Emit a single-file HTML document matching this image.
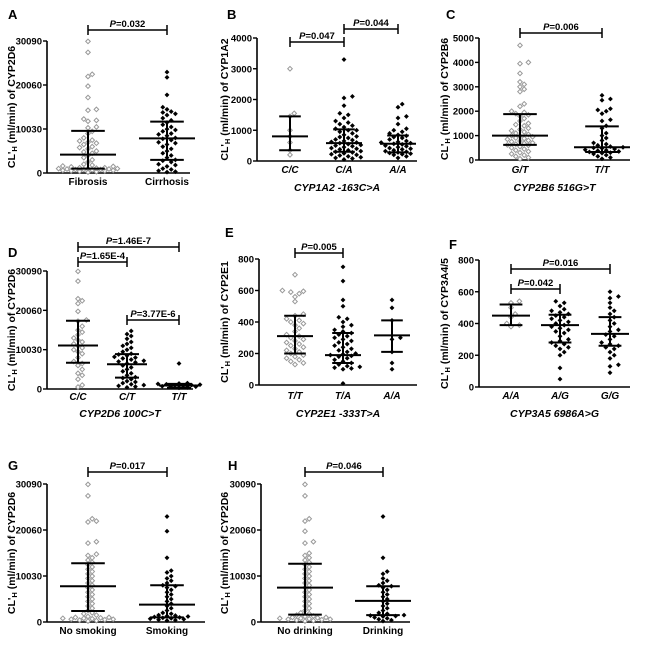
<!DOCTYPE html>
<html><head><meta charset="utf-8">
<style>
html,body{margin:0;padding:0;background:#fff;}
svg{display:block;font-family:"Liberation Sans",Arial,sans-serif;}
</style></head>
<body>
<svg id="fig" width="650" height="645" viewBox="0 0 650 645"></svg>
<script>
// ---------- DATA ----------
const aCats=["Fibrosis","Cirrhosis"];
const aTicks=[0,10030,20060,30090];
const aFib=[30000,27500,22500,22000,19800,17200,14500,14300,12300,12000,11800,10500,10300,9500,9000,8000,7500,7300,7000,6800,6500,6000,5800,5500,5000,4800,4500,4000,3500,3000,2500,2000,1800,1600,1500,1200,1000,1000,900,800,800,700,600,500,500,400,300,200,1000,1200,1400,800,600,1100,900];
const aCir=[23000,21800,17800,15000,14500,14000,13800,13500,13200,12500,12000,11500,11000,10500,10000,9800,9500,9000,8800,8500,8000,7800,7500,7000,6800,6500,6000,5500,5000,4500,4000,3500,3000,2800,2500,2000,1800,1500,1000,800,500,300,200];
const aMed=[4200,7900]; const aLo=[1000,3000]; const aHi=[9600,11700];

const bCats=["C/C","C/A","A/A"];
const bTicks=[0,1000,2000,3000,4000];
const bCC=[3000,1550,1450,1000,800,600,350,200];
const bCA=[3300,2100,2050,1800,1550,1500,1400,1300,1250,1200,1150,1100,1050,1000,1000,950,900,850,800,780,750,700,680,650,620,600,580,550,520,500,480,450,420,400,380,350,320,300,280,250,220,200,180,150,120,100,80,50];
const bAA=[1850,1750,1450,1400,1200,1050,1000,950,900,850,820,780,750,700,650,620,600,580,560,540,500,480,450,420,400,380,350,320,300,280,260,240,220,200,150,100];
const bMed=[800,580,560]; const bLo=[350,300,280]; const bHi=[1450,1030,830];

const cCats=["G/T","T/T"];
const cTicks=[0,1000,2000,3000,4000,5000];
const cGT=[4700,4000,3950,3550,3200,3100,3000,2900,2800,2300,2200,2000,1950,1900,1850,1800,1700,1600,1500,1450,1400,1300,1250,1200,1150,1100,1050,1000,980,950,900,880,850,800,780,750,700,680,650,620,600,550,500,450,400,350,300,250,200,150,100,50];
const cTT=[2650,2500,2450,2100,2050,2000,1900,1650,1600,1400,1300,1100,1000,900,800,700,650,600,550,520,500,480,450,420,400,380,350,330,300,280,250,200,150,100,50];
const cMed=[1000,520]; const cLo=[620,330]; const cHi=[1880,1380];

const dCats=["C/C","C/T","T/T"];
const dTicks=[0,10030,20060,30090];
const dCC=[30000,27500,23000,22500,21800,19800,17600,17300,16000,15000,14500,13800,13000,12500,12000,11500,11000,10500,10000,9500,9000,8000,7000,6500,6000,5000,4000,3500,2500,1000,500];
const dCT=[14800,14000,13500,12800,12000,11500,11000,10500,10000,9500,9000,8800,8500,8200,8000,7800,7500,7200,7000,6800,6500,6000,5500,5000,4500,4000,3500,3000,2800,2500,2000,1800,1500,1200,1000,800,600,400];
const dTT=[6500,1500,1400,1300,1200,1100,1000,900,800,700,600,500,400,300];
const dMed=[11100,6300,900]; const dLo=[6700,2900,300]; const dHi=[17400,8900,1300];

const eCats=["T/T","T/A","A/A"];
const eTicks=[0,200,400,600,800];
const eTT=[700,600,595,590,580,560,530,450,440,420,410,400,390,380,360,340,320,310,300,290,280,270,260,250,240,230,220,210,200,190,180,170,160,150,140,130];
const eTA=[750,660,540,500,430,420,400,380,370,350,340,330,320,310,300,290,280,270,260,250,240,230,220,210,200,195,190,185,180,170,160,150,140,130,120,115,110,105,100,10];
const eAA=[540,490,410,300,290,210,140,100];
const eMed=[310,190,315]; const eLo=[200,140,210]; const eHi=[440,330,410];

const fCats=["A/A","A/G","G/G"];
const fTicks=[0,200,400,600,800];
const fAA=[540,530,500,460,440,400,390,380];
const fAG=[540,530,510,490,480,470,460,450,440,430,420,410,400,390,380,370,360,350,340,320,300,290,280,270,260,250,240,220,200,120,50];
const fGG=[600,570,560,530,500,480,460,440,420,400,380,360,350,330,320,300,280,270,260,250,240,220,200,180,140,130,90];
const fMed=[450,390,335]; const fLo=[390,280,260]; const fHi=[520,455,440];

const gCats=["No smoking","Smoking"];
const gTicks=[0,10030,20060,30090];
const gNo=[30000,27500,22500,22000,21800,17500,17200,14800,14500,14000,13500,13000,12500,12000,11500,11000,10500,10000,9500,9000,8500,8000,7500,7000,6500,6000,5500,5000,4500,4000,3500,3000,2500,2000,1800,1500,1200,1000,900,800,700,600,500,400,300,200,1000,800,600];
const gSm=[23000,19800,14000,11200,10800,10000,9500,9000,8500,8000,7800,7500,7000,6500,6000,5500,5000,4500,4000,3500,3000,2500,2000,1800,1500,1400,1300,1200,1100,1000,900,800,700,600,500,400,300];
const gMed=[7800,3800]; const gLo=[2400,1000]; const gHi=[12800,8000];

const hCats=["No drinking","Drinking"];
const hTicks=[0,10030,20060,30090];
const hNo=[30000,27500,22500,22000,19800,17500,17200,15000,14500,14000,13500,13000,12500,12000,11500,11000,10500,10000,9500,9000,8500,8000,7500,7000,6500,6000,5500,5000,4500,4000,3500,3000,2500,2000,1800,1500,1200,1000,900,800,700,600,500,400,300,200,1000,800,600,1300];
const hDr=[23000,14000,11000,10500,9500,9000,8500,8000,7800,7500,7000,6500,6000,5500,5000,4500,4000,3500,3000,2500,2000,1800,1500,1400,1300,1200,1000,800,600,400,200];
const hMed=[7500,4600]; const hLo=[1600,1500]; const hHi=[12700,7800];

// ---------- RENDER ----------
const NS="http://www.w3.org/2000/svg";
const svg=document.getElementById('fig');
function mk(tag,attrs,parent){const e=document.createElementNS(NS,tag);for(const k in attrs)e.setAttribute(k,attrs[k]);(parent||svg).appendChild(e);return e;}

function panel(o){
  const g=mk('g',{});
  
  
  const yMax=o.ticks[o.ticks.length-1];
  const ys=v=>o.y0+(o.yTop-o.y0)*v/yMax;
  const L=mk('text',{x:o.lx,y:o.ly,'font-size':13,'font-weight':'bold'},g);L.textContent=o.letter;
  
  
  const ya=mk('line',{x1:o.ax,y1:o.yTop,x2:o.ax,y2:o.y0+0.5,stroke:'#000','stroke-width':1.6},g);
  
  
  const xa=mk('line',{x1:o.ax,y1:o.y0,x2:o.xEnd,y2:o.y0,stroke:'#000','stroke-width':1.6},g);
  
  
  o.ticks.forEach(t=>{
    const y=ys(t);
    mk('line',{x1:o.ax-4,y1:y,x2:o.ax,y2:y,stroke:'#000','stroke-width':1.4},g);
    const tx=mk('text',{x:o.ax-5,y:y+3.5,'font-size':9.5,'font-weight':'bold','text-anchor':'end'},g);
    tx.textContent=t;
    
    
  });
  const cy=(o.yTop+o.y0)/2;
  const yt=mk('text',{x:0,y:0,'font-size':10.5,'font-weight':'bold','text-anchor':'middle',transform:`translate(${o.tx},${cy}) rotate(-90)`},g);
  yt.innerHTML='CL\'<tspan font-size="7.5" dy="2">H</tspan><tspan dy="-2"> (ml/min) of '+o.enzyme+'</tspan>';
  
  
  o.cats.forEach((c,i)=>{
    const x=o.gx[i];
    const lab=mk('text',{x:x,y:o.labY,'font-size':10,'font-weight':'bold','text-anchor':'middle','font-style':o.italic?'italic':'normal'},g);
    lab.textContent=c;
    
    
    const open=(i===0);
    const placed=[];
    const vals=o.series[i].slice().sort((a,b)=>a-b);
    const maxOff=o.hw+3;
    vals.forEach(v=>{
      const y=ys(v);
      const cands=[0];for(let k=1;k*4.2<=maxOff;k++){cands.push(k*4.2,-k*4.2);}
      let off=null,best=-1,bestC=0;
      for(const cx of cands){
        let md=Infinity;
        placed.forEach(p=>{const dd=(p[0]-cx)*(p[0]-cx)+(p[1]-y)*(p[1]-y);if(dd<md)md=dd;});
        if(md>=21){off=cx;break;}
        if(md>best){best=md;bestC=cx;}
      }
      if(off===null)off=bestC;
      placed.push([off,y]);
      const px=x+off;
      const d=open?`M${px},${y-2.3}L${px+2.3},${y}L${px},${y+2.3}L${px-2.3},${y}Z`:`M${px},${y-2}L${px+2},${y}L${px},${y+2}L${px-2},${y}Z`;
      const p=mk('path',{d:d,fill:open?'#fff':'#000',stroke:open?'#999':'#000','stroke-width':open?1:0.6},g);
      
      
    });
    const hw=o.hw;
    const eg=mk('g',{stroke:'#000','stroke-width':2},g);
    
    
    mk('line',{x1:x,y1:ys(o.hi[i]),x2:x,y2:ys(o.lo[i])},eg);
    mk('line',{x1:x-hw,y1:ys(o.med[i]),x2:x+hw,y2:ys(o.med[i])},eg);
    mk('line',{x1:x-hw*0.6,y1:ys(o.hi[i]),x2:x+hw*0.6,y2:ys(o.hi[i])},eg);
    mk('line',{x1:x-hw*0.6,y1:ys(o.lo[i]),x2:x+hw*0.6,y2:ys(o.lo[i])},eg);
  });
  if(o.gene){
    const gt=mk('text',{x:(o.ax+o.xEnd)/2,y:o.geneY,'font-size':10.5,'font-weight':'bold','font-style':'italic','text-anchor':'middle'},g);
    gt.textContent=o.gene;
    
    
  }
  o.br.forEach(b=>{
    const bg=mk('g',{},g);
    
    
    const x1=o.gx[b[0]],x2=o.gx[b[1]];
    mk('line',{x1:x1,y1:b[2],x2:x2,y2:b[2],stroke:'#000','stroke-width':1.5},bg);
    mk('line',{x1:x1,y1:b[2]-5,x2:x1,y2:b[2]+5,stroke:'#000','stroke-width':1.5},bg);
    mk('line',{x1:x2,y1:b[2]-5,x2:x2,y2:b[2]+5,stroke:'#000','stroke-width':1.5},bg);
    const t=mk('text',{x:(x1+x2)/2,y:b[2]-3,'font-size':9.5,'font-weight':'bold','text-anchor':'middle'},bg);
    t.innerHTML='<tspan font-style="italic">P</tspan>='+b[3];
  });
}

panel({letter:'A',lx:8,ly:19,ax:47,yTop:41,y0:173,xEnd:190,tx:15,enzyme:'CYP2D6',ticks:aTicks,cats:aCats,gx:[88,167],series:[aFib,aCir],med:aMed,lo:aLo,hi:aHi,hw:28,labY:185,italic:false,br:[[0,1,30,'0.032']]});
panel({letter:'B',lx:227,ly:19,ax:257,yTop:38,y0:161,xEnd:417,tx:228,enzyme:'CYP1A2',ticks:bTicks,cats:bCats,gx:[290,344,398],series:[bCC,bCA,bAA],med:bMed,lo:bLo,hi:bHi,hw:18,labY:173,italic:true,gene:'CYP1A2 -163C>A',geneY:191,br:[[0,1,42,'0.047'],[1,2,29,'0.044']]});
panel({letter:'C',lx:446,ly:19,ax:479,yTop:38,y0:160,xEnd:630,tx:448,enzyme:'CYP2B6',ticks:cTicks,cats:cCats,gx:[520,602],series:[cGT,cTT],med:cMed,lo:cLo,hi:cHi,hw:28,labY:173,italic:true,gene:'CYP2B6 516G>T',geneY:191,br:[[0,1,33,'0.006']]});
panel({letter:'D',lx:8,ly:257,ax:47,yTop:271,y0:389,xEnd:193,tx:15,enzyme:'CYP2D6',ticks:dTicks,cats:dCats,gx:[78,127,179],series:[dCC,dCT,dTT],med:dMed,lo:dLo,hi:dHi,hw:20,labY:400,italic:true,gene:'CYP2D6 100C>T',geneY:417,br:[[0,2,247,'1.46E-7'],[0,1,262,'1.65E-4'],[1,2,320,'3.77E-6']]});
panel({letter:'E',lx:225,ly:237,ax:259,yTop:259,y0:385,xEnd:417,tx:228,enzyme:'CYP2E1',ticks:eTicks,cats:eCats,gx:[295,343,392],series:[eTT,eTA,eAA],med:eMed,lo:eLo,hi:eHi,hw:18,labY:399,italic:true,gene:'CYP2E1 -333T>A',geneY:417,br:[[0,1,253,'0.005']]});
panel({letter:'F',lx:449,ly:249,ax:479,yTop:260,y0:387,xEnd:630,tx:448,enzyme:'CYP3A4/5',ticks:fTicks,cats:fCats,gx:[511,560,610],series:[fAA,fAG,fGG],med:fMed,lo:fLo,hi:fHi,hw:19,labY:399,italic:true,gene:'CYP3A5 6986A>G',geneY:417,br:[[0,2,269,'0.016'],[0,1,289,'0.042']]});
panel({letter:'G',lx:8,ly:470,ax:47,yTop:484,y0:622,xEnd:205,tx:15,enzyme:'CYP2D6',ticks:gTicks,cats:gCats,gx:[88,167],series:[gNo,gSm],med:gMed,lo:gLo,hi:gHi,hw:28,labY:634,italic:false,br:[[0,1,472,'0.017']]});
panel({letter:'H',lx:228,ly:470,ax:261,yTop:484,y0:622,xEnd:410,tx:228,enzyme:'CYP2D6',ticks:hTicks,cats:hCats,gx:[305,383],series:[hNo,hDr],med:hMed,lo:hLo,hi:hHi,hw:28,labY:634,italic:false,br:[[0,1,472,'0.046']]});
</script>
</body></html>
